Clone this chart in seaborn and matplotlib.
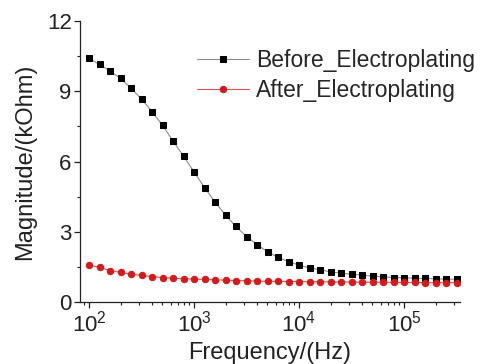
import numpy as np
import pandas as pd
import matplotlib
matplotlib.use("Agg")
import matplotlib.pyplot as plt
import seaborn as sns
from matplotlib.ticker import LogLocator, MultipleLocator, NullFormatter

# Frequency points (Hz): 10 per decade, 1e2 .. ~3.16e5
freq_exponents = [2.0, 2.1, 2.2, 2.3, 2.4, 2.5, 2.6, 2.7, 2.8, 2.9,
                  3.0, 3.1, 3.2, 3.3, 3.4, 3.5, 3.6, 3.7, 3.8, 3.9,
                  4.0, 4.1, 4.2, 4.3, 4.4, 4.5, 4.6, 4.7, 4.8, 4.9,
                  5.0, 5.1, 5.2, 5.3, 5.4, 5.5]
frequency = [10 ** e for e in freq_exponents]

before = [10.41, 10.15, 9.87, 9.55, 9.14, 8.67, 8.13, 7.55, 6.88, 6.23,
          5.56, 4.89, 4.28, 3.71, 3.23, 2.80, 2.46, 2.15, 1.91, 1.73,
          1.58, 1.46, 1.38, 1.29, 1.24, 1.19, 1.15, 1.11, 1.08, 1.05,
          1.04, 1.02, 1.01, 1.00, 0.98, 0.98]
after = [1.59, 1.48, 1.35, 1.27, 1.19, 1.14, 1.09, 1.05, 1.02, 1.00,
         0.98, 0.97, 0.95, 0.94, 0.92, 0.91, 0.90, 0.89, 0.89, 0.88,
         0.88, 0.87, 0.87, 0.86, 0.86, 0.86, 0.85, 0.85, 0.85, 0.84,
         0.84, 0.84, 0.83, 0.83, 0.83, 0.83]

labels = ["Before_Electroplating", "After_Electroplating"]
x_label = "Frequency/(Hz)"
y_label = "Magnitude/(kOhm)"

sns.set_style("ticks")
plt.rcParams["font.family"] = ["Liberation Sans", "DejaVu Sans"]
plt.rcParams["mathtext.fontset"] = "custom"
plt.rcParams["mathtext.rm"] = "Liberation Sans"
plt.rcParams["mathtext.it"] = "Liberation Sans:italic"
plt.rcParams["mathtext.bf"] = "Liberation Sans:bold"

df = pd.DataFrame({"freq": frequency, "before": before, "after": after})

fig = plt.figure(figsize=(4.82, 3.64), dpi=100)
ax = fig.add_axes([0.166, 0.170, 0.788, 0.772])

sns.lineplot(data=df, x="freq", y="before", ax=ax, color="#8c8c8c", lw=0.8,
             marker="s", markersize=4.0, markerfacecolor="black",
             markeredgecolor="black", label=labels[0])
sns.lineplot(data=df, x="freq", y="after", ax=ax, color="#e05050", lw=0.8,
             marker="o", markersize=4.6, markerfacecolor="#d41a1a",
             markeredgecolor="#d41a1a", label=labels[1])

ax.set_xscale("log")
ax.set_xlim(82, 3.4e5)
ax.set_ylim(0, 12)
ax.yaxis.set_major_locator(MultipleLocator(3))
ax.yaxis.set_minor_locator(MultipleLocator(1.5))
ax.xaxis.set_major_locator(LogLocator(base=10, numticks=10))
ax.xaxis.set_minor_locator(LogLocator(base=10, subs=np.arange(2, 10), numticks=20))
ax.xaxis.set_minor_formatter(NullFormatter())

for s in ["top", "right"]:
    ax.spines[s].set_visible(False)
for s in ["left", "bottom"]:
    ax.spines[s].set_linewidth(0.9)
    ax.spines[s].set_color("#222222")

ax.tick_params(axis="both", which="major", direction="out", length=4, width=0.9,
               labelsize=16, colors="#222222", pad=2)
ax.tick_params(axis="both", which="minor", direction="out", length=2.5, width=0.8,
               colors="#222222")

ax.set_xlabel(x_label, fontsize=17, labelpad=4, color="#222222")
ax.set_ylabel(y_label, fontsize=17, labelpad=8, color="#222222")

ax.legend(loc="upper right", bbox_to_anchor=(1.065, 0.932), frameon=False,
          fontsize=16.5, handlelength=2.3, handletextpad=0.3, labelspacing=0.3,
          borderaxespad=0)

fig.savefig("out.png", dpi=100)
